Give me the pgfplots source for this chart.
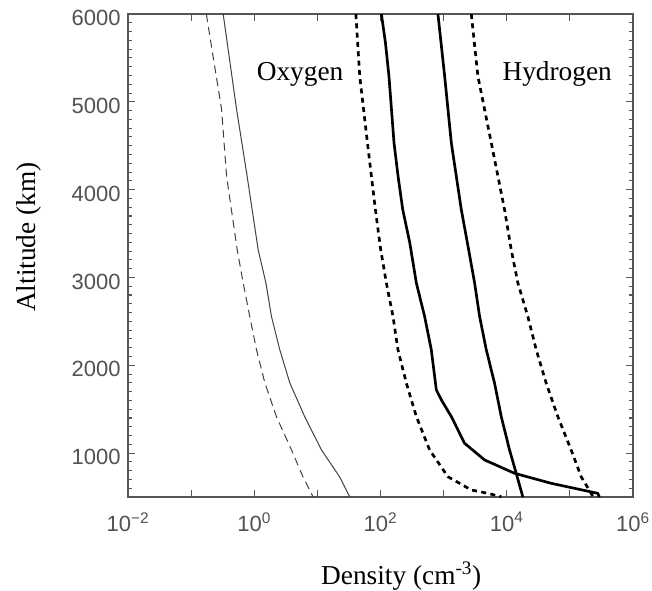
\documentclass[border=0pt]{standalone}
\usepackage{fontspec}
\setmainfont{Liberation Serif}
\newfontfamily\ticksans{Liberation Sans}
\usepackage{pgfplots}
\pgfplotsset{compat=1.18}

\definecolor{axisgray}{HTML}{555555}
\definecolor{oxgray}{HTML}{404040}

\begin{document}
\begin{tikzpicture}
\begin{axis}[
  at={(0,0)}, anchor=south west,
  scale only axis, width=378.75pt, height=362.25pt,
  xmode=log, xmin=1e-2, xmax=1e6, ymin=500, ymax=6000,
  xtick={1e-2,1e-1,1e0,1e1,1e2,1e3,1e4,1e5,1e6},
  xticklabels={10\textsuperscript{−2},,10\textsuperscript{0},,10\textsuperscript{2},,10\textsuperscript{4},,10\textsuperscript{6}},
  xminorticks=false,
  ytick={1000,2000,3000,4000,5000,6000},
  yticklabels={1000,2000,3000,4000,5000,6000},
  minor ytick={600,700,...,5900},
  major tick length=5.25pt, minor tick length=3pt,
  axis line style={axisgray, line width=0.9pt},
  tick style={axisgray, line width=0.8pt},
  tick label style={font=\ticksans\fontsize{16.5}{18}\selectfont, text=black!68},
  xticklabel style={yshift=-8pt},
  yticklabel style={xshift=-2pt, yshift=-3pt},
  xlabel={Density (cm\textsuperscript{-3})},
  ylabel={Altitude (km)},
  label style={font=\fontsize{20.5}{24}\selectfont},
  xlabel style={at={(axis description cs:0.541,-0.182)}, anchor=base},
  ylabel style={at={(axis description cs:-0.197,0.538)}, anchor=center},
]
% oxygen, solid
\addplot[oxgray, line width=0.75pt] coordinates {
  (0.322,6000) (0.525,4913) (0.773,4149) (1.153,3316) (1.528,2940)
  (1.879,2552) (2.541,2176) (3.656,1800) (6.32,1412) (11.61,1036)
  (22.6,728) (32.6,500)
};
% oxygen, dashed
\addplot[oxgray, line width=0.75pt, dash pattern=on 6pt off 3.75pt] coordinates {
  (0.174,6000) (0.304,4913) (0.365,4149) (0.537,3316) (0.667,2940)
  (0.851,2552) (1.086,2176) (1.472,1800) (2.254,1412) (3.89,1036)
  (5.94,728) (8.55,500)
};
% hydrogen, dashed, left
\addplot[black, line width=2pt, dash pattern=on 3.75pt off 3.25pt] coordinates {
  (40.7,6000) (46.9,5293) (62.1,4533) (83.0,3773) (100.7,3317)
  (123.9,2937) (157.8,2556) (189.2,2176) (257.0,1796) (369.8,1416)
  (599.8,1036) (1169.5,731) (1791,656) (2742,580) (5023,542) (8185,503)
};
% hydrogen, solid, left
\addplot[black, line width=2pt] coordinates {
  (103.3,6000) (119.7,5674) (136.1,5293) (163.7,4533) (190,4150) (225,3773)
  (290,3400) (369.8,2937) (500.0,2556) (638.3,2176) (765.6,1720)
  (920.4,1606) (1324,1416) (2148,1112) (4457,922) (13273,770)
  (50582,656) (276058,542) (293765,500)
};
% hydrogen, solid, right
\addplot[black, line width=2pt] coordinates {
  (812.8,6000) (1038,5293) (1324,4533) (1905,3773) (2489,3317)
  (3097,2937) (3715,2556) (4742,2176) (6412,1796) (8185,1416)
  (11066,1036) (14125,770) (17989,500)
};
% hydrogen, dashed, right
\addplot[black, line width=2pt, dash pattern=on 3.75pt off 3.25pt] coordinates {
  (2742,6000) (3491,5293) (5689,4533) (9226,3773) (11776,3317)
  (14997,2937) (21577,2556) (29309,2176) (42170,1796) (64417,1416)
  (104713,1036) (151008,731) (217270,542) (234423,500)
};
\node[anchor=base west, inner sep=0, font=\fontsize{20.5}{24}\selectfont] at (axis cs:1.087,5240) {Oxygen};
\node[anchor=base west, inner sep=0, font=\fontsize{20.5}{24}\selectfont] at (axis cs:8490,5245) {Hydrogen};
\end{axis}
\pgfresetboundingbox
\path[use as bounding box] (-96pt,-69.75pt) rectangle (393pt,372.75pt);
\end{tikzpicture}
\end{document}
